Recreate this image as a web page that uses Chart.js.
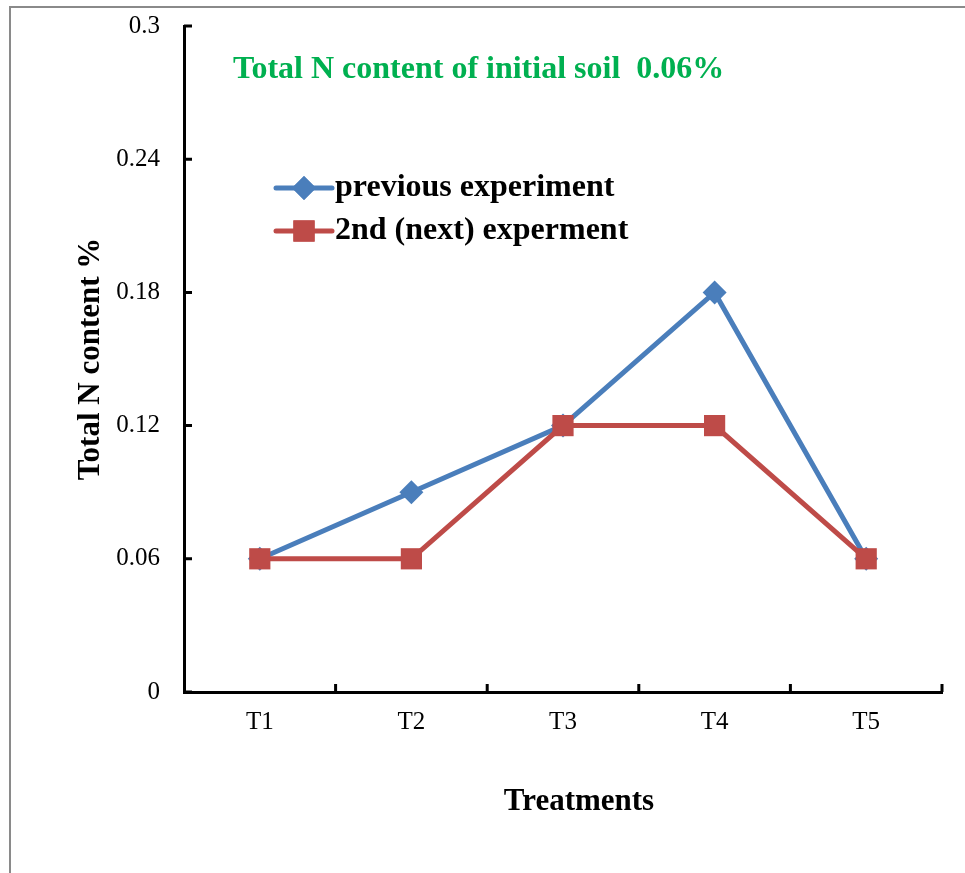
<!DOCTYPE html>
<html>
<head>
<meta charset="utf-8">
<title>Total N content</title>
<script src="https://cdn.jsdelivr.net/npm/chart.js@4/dist/chart.umd.min.js"></script>
<style>
  html, body { margin: 0; padding: 0; background: #fff; overflow: hidden; }
  #wrap { position: relative; width: 965px; height: 873px; }
  #frame { position: absolute; left: 9px; top: 6px; width: 1000px; height: 1000px;
           border: 2px solid #8a8a8a; box-sizing: border-box; pointer-events: none; }
  canvas { position: absolute; left: 0; top: 0; }
</style>
</head>
<body>
<div id="wrap">
  <canvas id="c" width="965" height="873"></canvas>
  <div id="frame"></div>
</div>
<script>
// Treatments on the x axis
const categories = ['T1', 'T2', 'T3', 'T4', 'T5'];
// Total N content (%) per treatment
const previousExperiment = [0.06, 0.09, 0.12, 0.18, 0.06];
const nextExperiment = [0.06, 0.06, 0.12, 0.12, 0.06];
// Y axis ticks
const yTicks = [0, 0.06, 0.12, 0.18, 0.24, 0.3];

const seriesNames = ['previous experiment', '2nd (next) experment'];
const noteText = 'Total N content of initial soil  0.06%';
const xTitle = 'Treatments';

const SERIF = '"Liberation Serif", "Times New Roman", serif';
const BLUE = '#4A7EBB';
const RED = '#BE4B48';

// Short inward tick marks on both axes
const innerTicks = {
  id: 'innerTicks',
  afterDraw(chart) {
    const { ctx, chartArea: a } = chart;
    const x = chart.scales.x, y = chart.scales.y;
    ctx.save();
    ctx.strokeStyle = '#000';
    ctx.lineWidth = 3;
    ctx.beginPath();
    y.ticks.forEach(t => {
      const py = y.getPixelForValue(t.value);
      ctx.moveTo(a.left, py);
      ctx.lineTo(a.left + 8, py);
    });
    const n = categories.length;
    for (let i = 1; i <= n; i++) {
      const px = i < n
        ? (x.getPixelForValue(i - 1) + x.getPixelForValue(i)) / 2
        : a.right;
      ctx.moveTo(px, a.bottom);
      ctx.lineTo(px, a.bottom - 8);
    }
    ctx.stroke();
    ctx.restore();
  }
};

// Note text, legend and x axis title
const insideText = {
  id: 'insideText',
  afterDraw(chart) {
    const { ctx, chartArea: a } = chart;
    ctx.save();
    ctx.font = 'bold 32px ' + SERIF;
    ctx.textBaseline = 'middle';
    ctx.textAlign = 'left';
    ctx.fillStyle = '#00B050';
    ctx.fillText(noteText, a.left + 49, a.top + 44);

    const items = [
      { name: seriesNames[0], color: BLUE, style: 'rectRot', r: 12, dy: 162 },
      { name: seriesNames[1], color: RED, style: 'rect', r: 15, dy: 205 }
    ];
    items.forEach(it => {
      const cy = a.top + it.dy;
      const x0 = a.left + 92, x1 = a.left + 148;
      ctx.strokeStyle = it.color;
      ctx.lineWidth = 5;
      ctx.lineCap = 'round';
      ctx.beginPath();
      ctx.moveTo(x0, cy);
      ctx.lineTo(x1, cy);
      ctx.stroke();
      ctx.fillStyle = it.color;
      Chart.helpers.drawPoint(ctx, { pointStyle: it.style, radius: it.r, rotation: 0, borderWidth: 0 },
        (x0 + x1) / 2, cy);
      ctx.fill();
      ctx.fillStyle = '#000';
      ctx.font = 'bold 32px ' + SERIF;
      ctx.fillText(it.name, x1 + 3, cy);
    });

    ctx.textAlign = 'center';
    ctx.font = 'bold 31px ' + SERIF;
    ctx.fillText(xTitle, (a.left + a.right) / 2 + 16, a.bottom + 110);
    ctx.restore();
  }
};

new Chart(document.getElementById('c'), {
  type: 'line',
  data: {
    labels: categories,
    datasets: [
      {
        label: seriesNames[0],
        data: previousExperiment,
        borderColor: BLUE,
        backgroundColor: BLUE,
        borderWidth: 5,
        pointStyle: 'rectRot',
        pointRadius: 12,
        pointBorderWidth: 0,
        tension: 0,
        order: 2
      },
      {
        label: seriesNames[1],
        data: nextExperiment,
        borderColor: RED,
        backgroundColor: RED,
        borderWidth: 5,
        pointStyle: 'rect',
        pointRadius: 15,
        pointBorderWidth: 0,
        tension: 0,
        order: 1
      }
    ]
  },
  options: {
    responsive: false,
    animation: false,
    events: [],
    layout: { padding: { left: 68, top: 26, right: 23, bottom: 0 } },
    plugins: { legend: { display: false }, tooltip: { enabled: false } },
    scales: {
      x: {
        offset: true,
        grid: { display: false, drawTicks: false },
        border: { display: true, color: '#000', width: 3 },
        ticks: { color: '#000', padding: 15, font: { family: SERIF, size: 25 } },
        afterFit(s) { s.height = 181; }
      },
      y: {
        min: 0, max: 0.3,
        afterBuildTicks(s) { s.ticks = yTicks.map(v => ({ value: v })); },
        grid: { display: false, drawTicks: false },
        border: { display: true, color: '#000', width: 3 },
        ticks: {
          color: '#000', padding: 24, font: { family: SERIF, size: 25 },
          callback: v => String(v)
        },
        title: {
          display: true, text: 'Total N content %', color: '#000',
          font: { family: SERIF, size: 31, weight: 'bold' },
          padding: { top: 4, bottom: 0 }
        },
        afterFit(s) { s.width = 116; s.paddingTop = 0; s.paddingBottom = 0; }
      }
    }
  },
  plugins: [innerTicks, insideText]
});
</script>
</body>
</html>
